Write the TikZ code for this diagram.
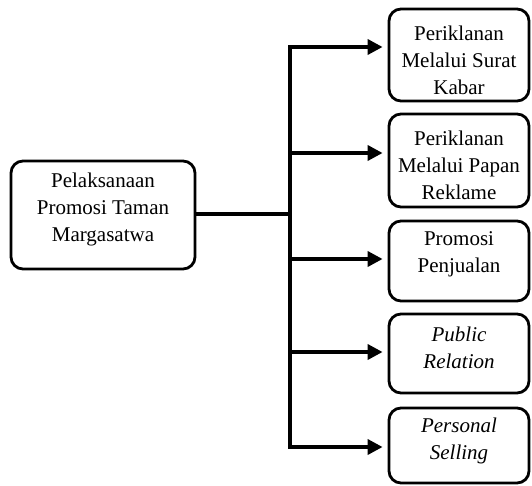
\documentclass[tikz,border=0pt]{standalone}
\usepackage{fontspec}
\setmainfont{Liberation Serif}
\usetikzlibrary{arrows.meta}
\begin{document}
\begin{tikzpicture}[x=1pt,y=-1pt,
  box/.style={draw,line width=2.8pt,rounded corners=12pt,inner sep=0pt},
  rbox/.style={box,minimum width=140pt},
  txt/.style={align=center,inner sep=0pt,font=\fontsize{21}{27}\selectfont},
  link/.style={line width=3.6pt},
  arr/.style={link,-{Triangle[length=15pt,width=15pt]},shorten >=5pt}]
\useasboundingbox (0,0) rectangle (532,486);
\node[box,minimum width=184pt,minimum height=108pt] (main) at (103,215) {};
\node[rbox,minimum height=92pt] (b1) at (459,55) {};
\node[rbox,minimum height=93pt] (b2) at (459,160.5) {};
\node[rbox,minimum height=80pt] (b3) at (459,261) {};
\node[rbox,minimum height=79pt] (b4) at (459,353.5) {};
\node[rbox,minimum height=75pt] (b5) at (459,445.5) {};
\node[txt] (t0) at (103,209) {Pelaksanaan\\Promosi Taman\\Margasatwa};
\node[txt] (t1) at (459,60) {Periklanan\\Melalui Surat\\Kabar};
\node[txt] (t2) at (459,165) {Periklanan\\Melalui Papan\\Reklame};
\node[txt] (t3) at (459,254) {Promosi\\Penjualan};
\node[txt,font=\fontsize{21}{27}\selectfont\itshape] (t4) at (459,348) {Public\\Relation};
\node[txt,font=\fontsize{21}{27}\selectfont\itshape] (t5) at (459,441) {Personal\\Selling};
\coordinate (j) at (290,214);
\coordinate (s1) at (290,47);
\coordinate (s2) at (290,153);
\coordinate (s3) at (290,259);
\coordinate (s4) at (290,352);
\coordinate (s5) at (290,447);
\draw[link] (main.east |- j) -- (j);
\draw[link,line cap=rect] (s1) -- (s5);
\draw[arr] (s1) -- (s1 -| b1.west);
\draw[arr] (s2) -- (s2 -| b2.west);
\draw[arr] (s3) -- (s3 -| b3.west);
\draw[arr] (s4) -- (s4 -| b4.west);
\draw[arr] (s5) -- (s5 -| b5.west);
\end{tikzpicture}
\end{document}
